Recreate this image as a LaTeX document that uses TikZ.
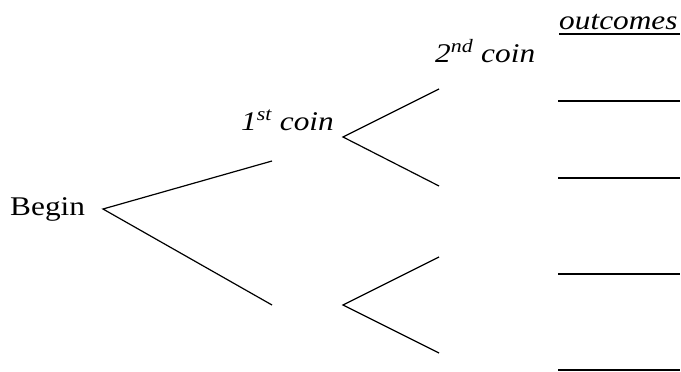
\documentclass[tikz,border=0pt]{standalone}
\usepackage{fontspec}
\setmainfont{Liberation Serif}
\begin{document}
\begin{tikzpicture}[x=1pt,y=-1pt,
  lbl/.style={inner sep=0pt,anchor=base west,font=\fontsize{27}{32}\selectfont,xscale=1.16,transform shape},
  br/.style={line width=1.2pt},
  outl/.style={line width=1.4pt}]
\useasboundingbox (0,0) rectangle (681,372);
\node[lbl] (begin) at (10,215) {Begin};
\node[lbl] (first) at (241,130) {\textit{1\textsuperscript{st} coin}};
\node[lbl] (second) at (435,62) {\textit{2\textsuperscript{nd} coin}};
\node[lbl] (outc) at (559,29) {\textit{outcomes}};
\draw[outl] (559,34) coordinate (u1) -- (680,34) coordinate (u2);
\coordinate (a0) at (103,209);
\coordinate (a1) at (272,161);
\coordinate (a2) at (272,305);
\coordinate (b1) at (343,137);
\coordinate (b2) at (343,305);
\coordinate (c1) at (439,89);
\coordinate (c2) at (439,186);
\coordinate (c3) at (439,257);
\coordinate (c4) at (439,353);
\draw[br] (a1) -- (a0) -- (a2);
\draw[br] (c1) -- (b1) -- (c2);
\draw[br] (c3) -- (b2) -- (c4);
\foreach \y/\n in {101/o1,178/o2,274/o3,370/o4}{
  \draw[outl] (558,\y) coordinate (\n l) -- (680,\y) coordinate (\n r);
}
\end{tikzpicture}
\end{document}
